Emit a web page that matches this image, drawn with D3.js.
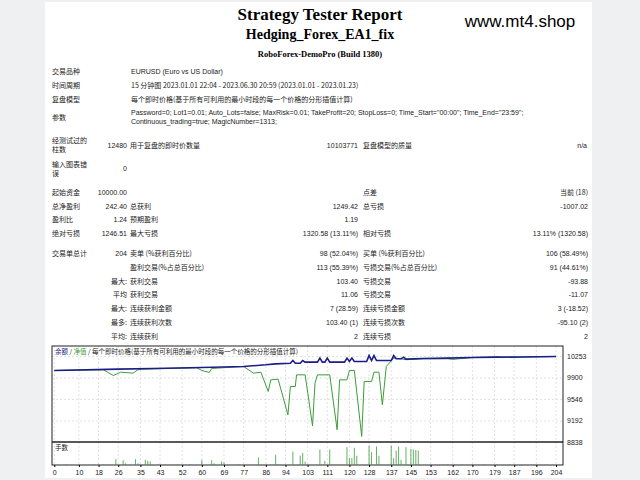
<!DOCTYPE html>
<html><head><meta charset="utf-8">
<script src="https://cdn.jsdelivr.net/npm/d3@7"></script>
<style>body{margin:0;background:#eef0f2;}svg{display:block}</style>
</head><body><svg id="c" width="640" height="480"></svg>
<script>
const titles = ["Strategy Tester Report","Hedging_Forex_EA1_fix","RoboForex-DemoPro (Build 1380)"];
const site = "www.mt4.shop";
// info rows: [y, label, value]
const infoRows = [
 [74,"交易品种","EURUSD (Euro vs US Dollar)"],
 [88,"时间周期","15 分钟图 2023.01.01 22:04 - 2023.06.30 20:59 (2023.01.01 - 2023.01.23)"],
 [102,"复盘模型","每个即时价格(基于所有可利用的最小时段的每一个价格的分形插值计算)"]
];
const paramLines = ["Password=0; Lot1=0.01; Auto_Lots=false; MaxRisk=0.01; TakeProfit=20; StopLoss=0; Time_Start=\"00:00\"; Time_End=\"23:59\";","Continuous_trading=true; MagicNumber=1313;"];
// stats rows: [y, l1, v1, l2, v2, l3, v3]
const statRows = [
 [195,"起始资金","10000.00","","","点差","当前 (18)"],
 [209,"总净盈利","242.40","总获利","1249.42","总亏损","-1007.02"],
 [222,"盈利比","1.24","预期盈利","1.19","",""],
 [236,"绝对亏损","1246.51","最大亏损","1320.58 (13.11%)","相对亏损","13.11% (1320.58)"],
 [256,"交易单总计","204","卖单 (%获利百分比)","98 (52.04%)","买单 (%获利百分比)","106 (58.49%)"],
 [270,"","","盈利交易(%占总百分比)","113 (55.39%)","亏损交易(%占总百分比)","91 (44.61%)"],
 [284,"","最大:","获利交易","103.40","亏损交易","-93.88"],
 [297,"","平均","获利交易","11.06","亏损交易","-11.07"],
 [311,"","最大:","连续获利金额","7 (28.59)","连续亏损金额","3 (-18.52)"],
 [325,"","最多:","连续获利次数","103.40 (1)","连续亏损次数","-95.10 (2)"],
 [339,"","平均:","连续获利","2","连续亏损","2"]
];
const balIdx = [0,26,40,60,77,86,90,96,97,98,100,101,102,107,108,109,110,111,112,118,119,120,121,122,127,128,129,130,131,137,138,139,141,142,143,150,160,170,180,190,204];
const balVal = [10023,10045,10056,10072,10089,10116,10132,10143,10187,10143,10143,10187,10160,10160,10226,10160,10160,10226,10160,10160,10226,10171,10226,10171,10171,10269,10187,10269,10187,10187,10269,10215,10215,10242,10209,10220,10226,10237,10242,10245,10253];
const eqIdx = [0,20,24,27,32,34,36,58,60,63,64,77,81,84,87,88,91,95,96,98,98.5,102,105,106,107,112,115,116,119,120,122,125,126,129,130,132,133.4,135,138,141,143,150,160,162,170,180,182,190,204];
const eqVal = [10023,10034,9940,9995,9979,10034,10045,10067,10023,9990,10056,10089,9979,9995,9677,9869,9880,9293,9759,9759,9951,9951,9112,9814,9951,9951,9047,9869,9869,10023,10023,8937,9842,9842,9995,9995,9458,10089,10226,10215,10200,10215,10215,10205,10237,10245,10235,10245,10253];
const volIdx = [5,10,20,25,28,29,33,34,37,38,39,45,50,55,60,64,65,68,69,75,83,90,97,100,101,102,108,110,112,119,120,121,122,123,128,129,131,132,137,138,139,140,141,143,145,146,147,148,160,163,166,170,175,180,185,190,195,200];
const volLots = [.02,.02,.02,.17,.14,.05,.17,.05,.15,.12,.1,.02,.02,.02,.15,.14,.05,.1,.08,.02,.22,.3,.39,.27,.35,.1,.45,.12,.45,.52,.2,.2,.5,.27,.57,.37,.54,.27,.57,.2,.42,.54,.15,.52,.47,.45,.44,.42,.02,.02,.02,.02,.02,.02,.02,.02,.02,.02];
const xTicks = [0,10,18,26,35,43,52,60,69,77,86,94,103,111,120,128,137,145,153,162,170,179,187,196,204];
const yTicks = [10253,9900,9546,9192,8838];
const legend = ["余额","净值","每个即时价格(基于所有可利用的最小时段的每一个价格的分形插值计算)"];

const svg = d3.select("#c");
const cjk = "'Noto Sans CJK SC', sans-serif", lat = "'Liberation Sans', Arial, sans-serif";
svg.append("rect").attr("x",45).attr("y",2).attr("width",547).attr("height",476).attr("fill","#fff");
const serif = "'Liberation Serif','Times New Roman',serif";
svg.append("text").attr("x",320).attr("y",20).attr("text-anchor","middle").attr("font-family",serif).attr("font-weight","bold").attr("font-size",17).text(titles[0]);
svg.append("text").attr("x",320).attr("y",39).attr("text-anchor","middle").attr("font-family",serif).attr("font-weight","bold").attr("font-size",14).text(titles[1]);
svg.append("text").attr("x",320).attr("y",57).attr("text-anchor","middle").attr("font-family",serif).attr("font-weight","bold").attr("font-size",8.5).text(titles[2]);
svg.append("text").attr("x",520).attr("y",27).attr("text-anchor","middle").attr("font-family",lat).attr("font-size",17).text(site);

function t(x,y,s,anchor){ if(!s) return; svg.append("text").attr("x",x).attr("y",y).attr("text-anchor",anchor||"start")
 .attr("font-family",/[\u4e00-\u9fff]/.test(s)?cjk:lat).attr("font-size",7).attr("fill","#222").text(s);}
infoRows.forEach(r=>{t(52,r[0],r[1]);t(131,r[0],r[2]);});
t(52,120,"参数"); t(131,115,paramLines[0]); t(131,124,paramLines[1]);
t(52,143,"经测试过的"); t(52,152,"柱数"); t(127,148,"12480","end"); t(130,148,"用于复盘的即时价数量");
t(358,148,"10103771","end"); t(363,148,"复盘模型的质量"); t(587,148,"n/a","end");
t(52,167,"输入图表错"); t(52,176,"误"); t(127,171,"0","end");
statRows.forEach(r=>{
  t(52,r[0],r[1]);
  if(r[0]>=284){ t(127,r[0],r[2],"end"); } else t(127,r[0],r[2],"end");
  t(130,r[0],r[3]); t(358,r[0],r[4],"end"); t(363,r[0],r[5]); t(588,r[0],r[6],"end");
});

// chart
const L=52,R=563,T=346,MB=442,VB=465;
const x = d3.scaleLinear().domain([0,204]).range([54.3,556]);
const y = d3.scaleLinear().domain([8838,10253]).range([442.5,356.5]);
const yv = d3.scaleLinear().domain([0,0.67]).range([VB,MB]);
const g = svg.append("g");
xTicks.forEach(v=>g.append("line").attr("x1",x(v)).attr("x2",x(v)).attr("y1",T).attr("y2",VB).attr("stroke","#ccc").attr("stroke-width",0.6).attr("stroke-dasharray","2,2"));
yTicks.slice(0,4).forEach(v=>g.append("line").attr("x1",L).attr("x2",R).attr("y1",y(v)).attr("y2",y(v)).attr("stroke","#ccc").attr("stroke-width",0.6).attr("stroke-dasharray","2,2"));
g.append("rect").attr("x",L).attr("y",T).attr("width",R-L).attr("height",VB-T).attr("fill","none").attr("stroke","#222").attr("stroke-width",1);
g.append("line").attr("x1",L).attr("x2",R).attr("y1",MB).attr("y2",MB).attr("stroke","#222").attr("stroke-width",1.5);
const line = d3.line().x(d=>x(d[0])).y(d=>y(d[1]));
g.append("path").attr("d",line(eqIdx.map((v,i)=>[v,eqVal[i]]))).attr("fill","none").attr("stroke","#3c9c3c").attr("stroke-width",1);
g.append("path").attr("d",line(balIdx.map((v,i)=>[v,balVal[i]]))).attr("fill","none").attr("stroke","#1c1c8a").attr("stroke-width",1.6);
volIdx.forEach((v,i)=>g.append("line").attr("x1",x(v)).attr("x2",x(v)).attr("y1",VB).attr("y2",yv(volLots[i])).attr("stroke","#3c9c3c").attr("stroke-width",0.8));
const ax = svg.append("g").attr("transform",`translate(0,${VB})`).call(d3.axisBottom(x).tickValues(xTicks).tickSize(2).tickFormat(d3.format("d")));
ax.select(".domain").remove();
ax.selectAll("text").attr("font-family",lat).attr("font-size",7).attr("fill","#222");
yTicks.forEach(v=>svg.append("text").attr("x",567).attr("y",y(v)+2.5).attr("font-family",lat).attr("font-size",7).attr("fill","#222").text(v));
const lg = svg.append("text").attr("x",55).attr("y",354).attr("font-family",cjk).attr("font-size",6.5);
lg.append("tspan").attr("fill","#1c1c8a").text(legend[0]);
lg.append("tspan").attr("fill","#222").text(" / ");
lg.append("tspan").attr("fill","#3c9c3c").text(legend[1]);
lg.append("tspan").attr("fill","#222").text(" / "+legend[2]);
svg.append("text").attr("x",55).attr("y",450).attr("font-family",cjk).attr("font-size",6.5).attr("fill","#222").text("手数");
</script></body></html>
